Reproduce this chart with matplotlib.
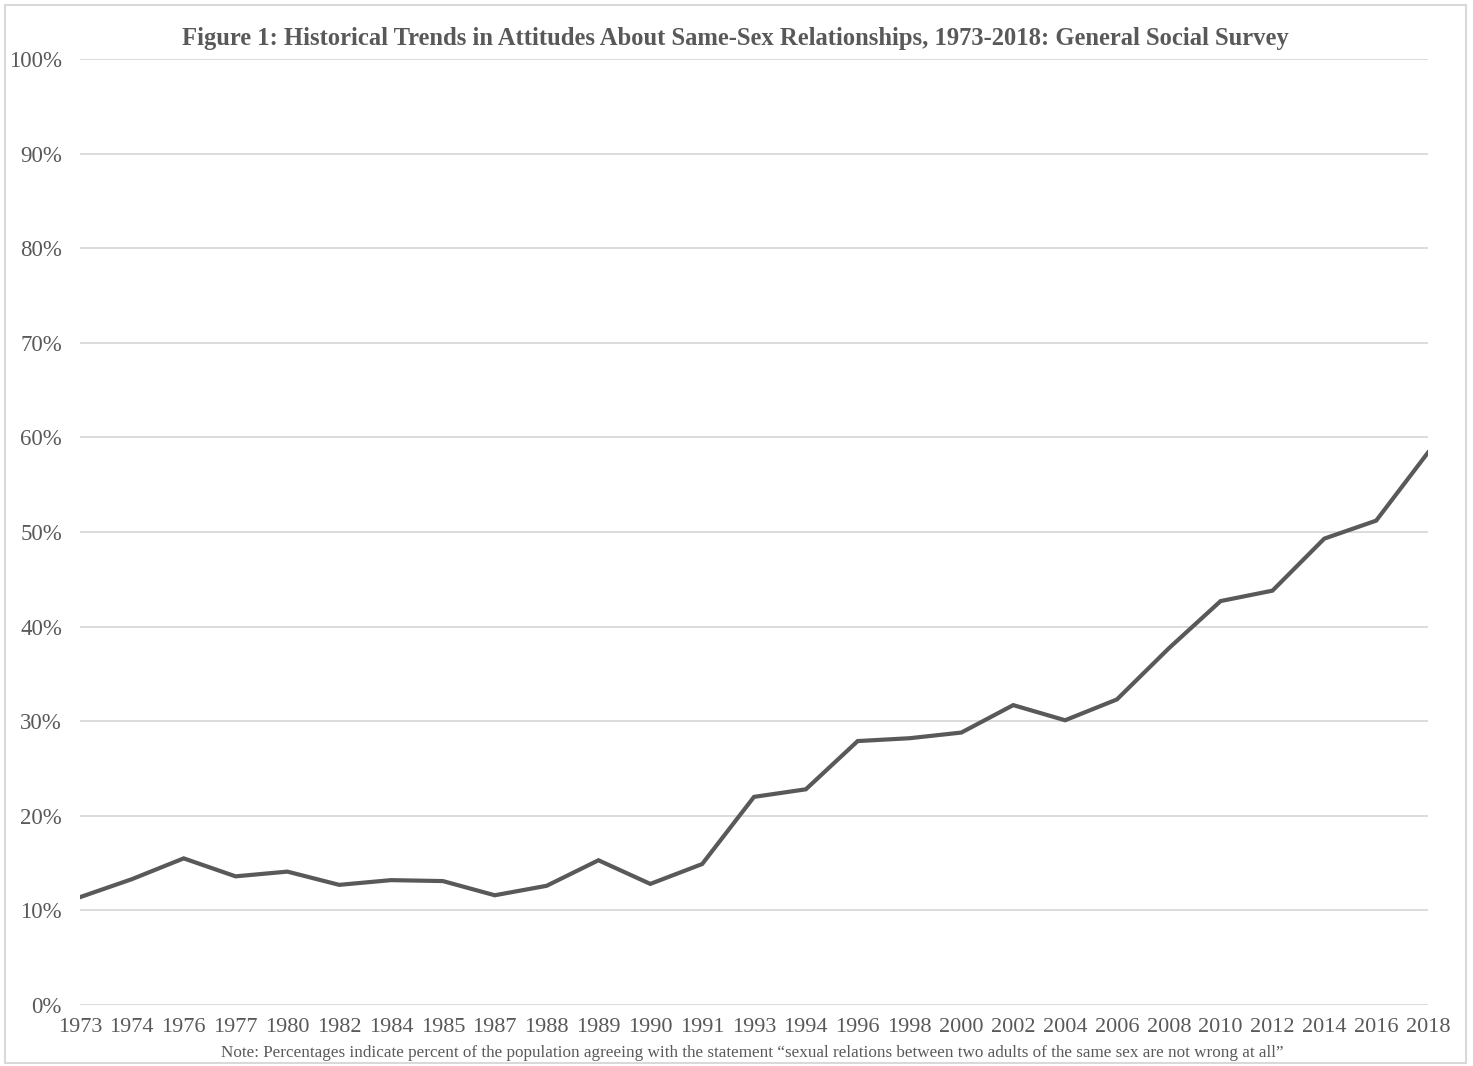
import matplotlib
matplotlib.use("Agg")
import matplotlib.pyplot as plt
from matplotlib.patches import Rectangle
from matplotlib.ticker import FuncFormatter

years = ["1973", "1974", "1976", "1977", "1980", "1982", "1984", "1985", "1987",
         "1988", "1989", "1990", "1991", "1993", "1994", "1996", "1998", "2000",
         "2002", "2004", "2006", "2008", "2010", "2012", "2014", "2016", "2018"]
values = [11.4, 13.3, 15.5, 13.6, 14.1, 12.7, 13.2, 13.1, 11.6,
          12.6, 15.3, 12.8, 14.9, 22.0, 22.8, 27.9, 28.2, 28.8,
          31.7, 30.1, 32.3, 37.7, 42.7, 43.8, 49.3, 51.2, 58.4]
y_ticks = [0, 10, 20, 30, 40, 50, 60, 70, 80, 90, 100]

title = "Figure 1: Historical Trends in Attitudes About Same-Sex Relationships, 1973-2018: General Social Survey"
note = ("Note: Percentages indicate percent of the population agreeing with the statement "
        "\u201csexual relations between two adults of the same sex are not wrong at all\u201d")

plt.rcParams['font.family'] = ['Liberation Serif', 'DejaVu Serif']
txt = '#595959'

fig = plt.figure(figsize=(14.73, 10.66), dpi=100)
ax = fig.add_axes([80/1473, 1 - 1005/1066, (1428-80)/1473, (1005-59)/1066])

x = list(range(len(years)))
ax.plot(x, values, color='#595959', linewidth=3.0, solid_joinstyle='miter', zorder=3)

ax.set_xlim(0, len(years) - 1)
ax.set_ylim(0, 100)
ax.set_yticks(y_ticks)
ax.yaxis.set_major_formatter(FuncFormatter(lambda v, p: f"{int(v)}%"))
ax.set_xticks(x)
ax.set_xticklabels(years)
ax.grid(axis='y', color='#d9d9d9', linewidth=1.3, zorder=0)
ax.grid(axis='x', visible=False)
for s in ax.spines.values():
    s.set_visible(False)
ax.tick_params(axis='both', length=0, colors=txt)
ax.tick_params(axis='y', pad=13, labelsize=16.5)
ax.tick_params(axis='x', pad=9, labelsize=16)

fig.text(735/1473, 1 - 38/1066, title, ha='center', va='center',
         fontsize=17.7, fontweight='bold', color=txt)
fig.text(752/1473, 1 - 1053/1066, note, ha='center', va='center',
         fontsize=12.35, color=txt)

fig.patches.append(Rectangle((5/1473, 3/1066), 1461/1473, 1058/1066, transform=fig.transFigure,
                             fill=False, edgecolor='#d9d9d9', linewidth=1.5))

fig.savefig('out.png', dpi=100, facecolor='white')
